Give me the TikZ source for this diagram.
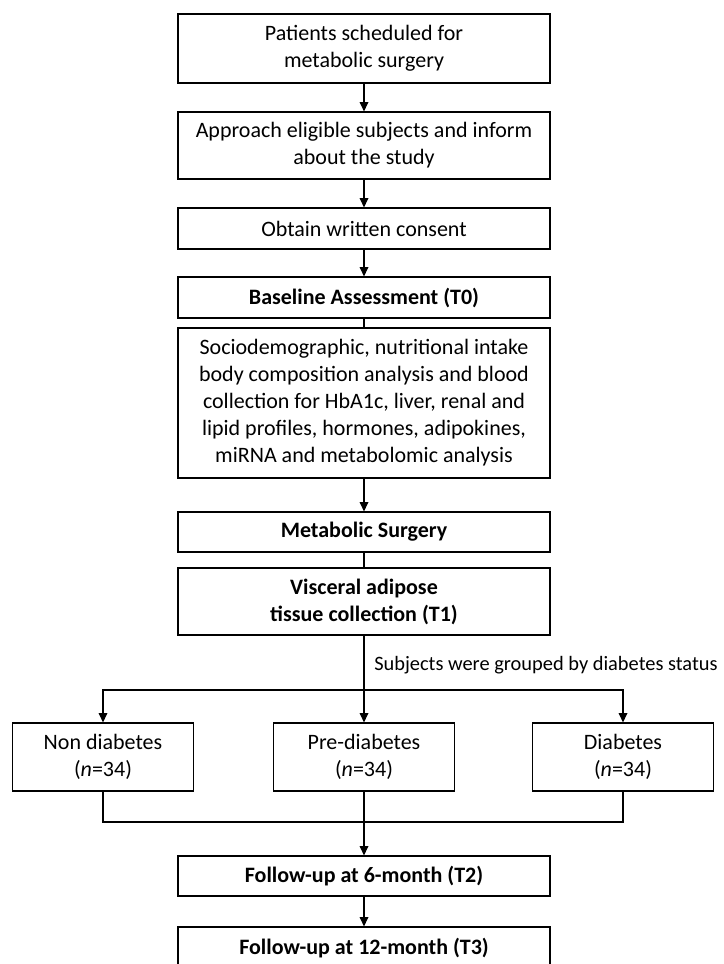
\documentclass[tikz,border=0pt]{standalone}
\usepackage{fontspec}
\setmainfont{Carlito}
\usepackage{tikz}
\usetikzlibrary{positioning,arrows.meta}

\begin{document}
\begin{tikzpicture}[x=0.75pt,y=-0.75pt,
    every node/.style={font=\fontsize{16.5}{20.25}\selectfont},
    box/.style={draw,line width=0.9pt,minimum width=279pt,align=center,inner sep=2pt},
    grp/.style={draw,line width=0.9pt,minimum width=135.5pt,minimum height=51pt,align=center,inner sep=2pt},
    arr/.style={-{Triangle[length=7pt,width=6.5pt]},line width=0.9pt},
    lin/.style={line width=0.9pt}]
  \useasboundingbox (0,0) rectangle (724,964);
  % main column
  \node[box,minimum height=51.75pt] (pat) at (364,48.5) {Patients scheduled for\\metabolic surgery};
  \node[box,minimum height=50.25pt] (appr) at (364,145.5) {Approach eligible subjects and inform\\about the study};
  \node[box,minimum height=30.75pt] (cons) at (364,228.5) {Obtain written consent};
  \node[box,minimum height=30.75pt] (base) at (364,297.5) {\bfseries Baseline Assessment (T0)};
  \node[box,minimum height=112.5pt] (meas) at (364,403)
    {Sociodemographic, nutritional intake\\body composition analysis and blood\\collection for HbA1c, liver, renal and\\lipid profiles, hormones, adipokines,\\miRNA and metabolomic analysis};
  \node[box,minimum height=30pt] (surg) at (364,532) {\bfseries Metabolic Surgery};
  \node[box,minimum height=50.25pt] (visc) at (364,601.5) {\bfseries Visceral adipose\\\bfseries tissue collection (T1)};
  % groups
  \node[grp] (non) at (103,757) {Non diabetes\\(\textit{n}=34)};
  \node[grp] (pre) at (364,757) {Pre-diabetes\\(\textit{n}=34)};
  \node[grp] (dia) at (623,757) {Diabetes\\(\textit{n}=34)};
  % follow-up
  \node[box,minimum height=30pt] (fu6) at (364,876) {\bfseries Follow-up at 6-month (T2)};
  \node[box,minimum height=31.5pt] (fu12) at (364,948) {\bfseries Follow-up at 12-month (T3)};
  % connectors
  \draw[arr] (pat) -- (appr);
  \draw[arr] (appr) -- (cons);
  \draw[arr] (cons) -- (base);
  \draw[lin] (base) -- (meas);
  \draw[arr] (meas) -- (surg);
  \draw[lin] (surg) -- (visc);
  \coordinate (split) at (364,690);
  \node[anchor=west,inner sep=0pt,font=\fontsize{15.3}{19}\selectfont] (grouped) at (374,665) {Subjects were grouped by diabetes status};
  \draw[arr] (visc) -- (pre);
  \draw[arr] (split) -| (non.north);
  \draw[arr] (split) -| (dia.north);
  \coordinate (join) at (364,822);
  \draw[lin] (non.south) |- (join) -| (dia.south);
  \draw[arr] (pre) -- (fu6);
  \draw[arr] (fu6) -- (fu12);
\end{tikzpicture}
\end{document}
